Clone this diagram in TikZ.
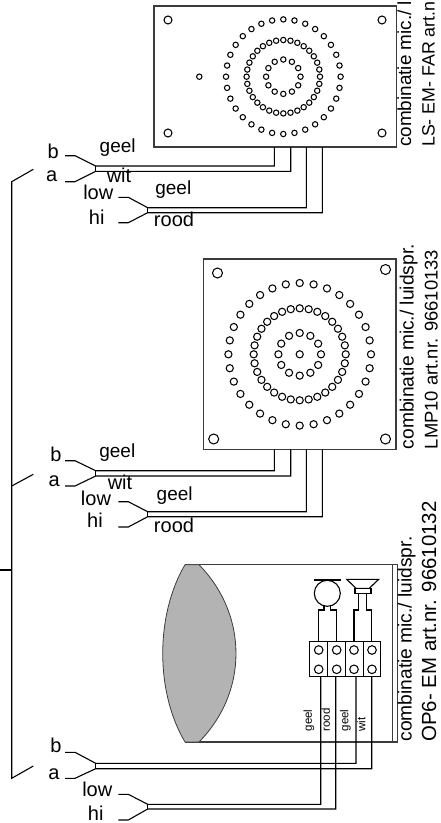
\documentclass[tikz,border=0pt]{standalone}
\usepackage{fontspec}
\setmainfont{Liberation Sans}
\usepackage{tikz}
\definecolor{lensgray}{RGB}{179, 179, 179}
\definecolor{linegray}{RGB}{60, 60, 60}
\tikzset{
    wire/.style={black, line width=1.1pt},
    casing/.style={linegray, line width=1.3pt},
    hole/.style={black, line width=1.05pt},
    lbl/.style={inner sep=0pt, anchor=base, font=\fontsize{20}{20}\selectfont},
    geellbl/.style={inner sep=0pt, anchor=base, font=\fontsize{19}{19}\selectfont},
    typelbl/.style={inner sep=0pt, anchor=mid west, rotate=90},
    corelbl/.style={inner sep=0pt, anchor=mid west, rotate=90, font=\fontsize{11.5}{12}\selectfont},
}

\begin{document}
\begin{tikzpicture}[x=1pt, y=-1pt]
            \useasboundingbox (0,0) rectangle (441,823);
            % LS-EM-FAR plate
            \draw[casing] (154,6) rectangle (396.5,147);
            \foreach \xx/\yy in {168/20, 382/20, 168/133, 382/133}
                \draw[hole] (\xx,\yy) circle (4);
            \coordinate (farc) at (283.3,76.7);
            \foreach \i in {1,...,32} {
                \draw[hole] (farc) ++(\i*11.25:57.3) circle (2.7);
                \draw[hole] (farc) ++(\i*11.25:36.7) circle (2.7);
            }
            \foreach \i in {1,...,12}
                \draw[hole] (farc) ++(\i*30:17.2) circle (2.7);
            \draw[hole] (199.3,76.7) circle (2.7);
            % LMP10 plate
            \draw[casing] (203.5,259) rectangle (396,449.3);
            \foreach \xx/\yy in {217.5/273, 385.5/269.5, 213.7/439, 385.5/439}
                \draw[hole] (\xx,\yy) circle (5);
            \coordinate (lmpc) at (299.7,354.3);
            \foreach \i in {1,...,32} {
                \draw[hole] (lmpc) ++(\i*11.25:71.3) circle (3.6);
                \draw[hole] (lmpc) ++(\i*11.25:46) circle (3.6);
            }
            \foreach \i in {1,...,12}
                \draw[hole] (lmpc) ++(\i*30:21.3) circle (3.6);
            \draw[hole] (lmpc) circle (3.6);
            % OP6-EM casing
            \draw[casing] (185,564.7) -- (397.3,564.7) -- (397.3,742) -- (185,742);
            \draw[casing] (392.7,564.7) -- (392.7,742);
            \draw[linegray, line width=0.8pt, fill=lensgray] (185,564.7) -- (199,564.7)
                 .. controls (248.3,615) and (248.3,692) .. (199,742) -- (185,742)
                 .. controls (155.3,692) and (155.3,615) .. (185,564.7) -- cycle;
            % Microphone
            \draw[black, line width=2.2pt] (314,580) -- (340.7,580);
            \draw[wire] (327.3,593.3) circle (13);
            \draw[wire] (318.7,641.7) |- (324,610) -- (324,605);
            \draw[wire] (336.7,641.7) |- (330.7,610) -- (330.7,605);
            % Speaker
            \draw[wire] (346.7,579.3) -- (378.7,579.3) -- (369.3,588.3) -- (356,588.3) -- cycle;
            \draw[wire] (355,588.3) rectangle (371,593.3);
            \draw[wire] (354,641.7) |- (358.3,610) -- (358.3,593.3);
            \draw[wire] (371.3,641.7) |- (366.7,610) -- (366.7,593.3);
            % Terminal block
            \draw[wire] (309.3,641.7) rectangle (380.7,676.7);
            \foreach \xx in {327.3, 345.3, 363.3}
                \draw[wire] (\xx,641.7) -- (\xx,676.7);
            \foreach \xx in {318.7, 336.7, 354, 372} {
                \draw[hole] (\xx,650) circle (4.3);
                \draw[hole] (\xx,669.3) circle (4.3);
            }
            % Cable pairs: name / stub x / stub y / fork x / fork y / end x / end y
            \foreach \nm/\xa/\ya/\xf/\yf/\xe/\ye in {
                    farb/65/155.7/95.7/166/274.3/147,     fara/65/181.7/95.7/171.3/290.7/147,
                    farl/118.3/197.3/147.7/207.7/306.3/147, farh/118.3/222.7/147.7/212.7/322.3/147,
                    lmpb/65/460.7/95.7/470.7/274.3/449.3, lmpa/65/486/95.7/476/290.7/449.3,
                    lmpl/118.3/501.7/147.7/511.7/306.3/449.3, lmph/118.3/527/147.7/516.7/322.3/449.3,
                    opb/65/752.3/95.7/763.3/356/676.7,    opa/65/778.3/95.7/768.7/371.7/676.7,
                    opl/118.3/794.3/147.7/804.3/320.7/676.7, oph/118.3/820/147.7/809/335.7/676.7} {
                \coordinate (\nm s) at (\xa,\ya);
                \coordinate (\nm f) at (\xf,\yf);
                \coordinate (\nm e) at (\xe,\ye);
                \draw[wire] (\nm s) -- ++(10,0) -- (\nm f) -| (\nm e);
            }
            \foreach \nma/\nmb in {farb/fara, farl/farh, lmpb/lmpa, lmpl/lmph, opb/opa, opl/oph}
                \draw[wire] (\nma f) -- (\nmb f);
            % Supply bus
            \coordinate (busa) at (33.3,169.3);
            \coordinate (busb) at (11.7,181.7);
            \coordinate (busc) at (11.7,778.3);
            \coordinate (busd) at (33.3,766);
            \coordinate (buse) at (33.3,474.3);
            \coordinate (busf) at (11.7,486);
            \coordinate (busg) at (0,570);
            \coordinate (bush) at (11.7,570);
            \draw[wire] (busa) -- (busb) -- (busc) -- (busd);
            \draw[wire] (buse) -- (busf);
            \draw[wire] (busg) -- (bush);
            % Labels at the cables
            \node[lbl] (farlb)  at (53.3,158.3) {b};
            \node[lbl] (farla)  at (51.7,181)   {a};
            \node[geellbl] (farge)  at (117.7,152.7) {geel};
            \node[lbl] (farwi)  at (119,182.7)  {wit};
            \node[lbl] (farlo)  at (98.3,199)   {low};
            \node[lbl] (farhi)  at (96.7,224)   {hi};
            \node[geellbl] (fargl)  at (173.3,194.3) {geel};
            \node[lbl] (farro)  at (174,226)    {rood};
            \node[lbl] (lmplb)  at (56,461)     {b};
            \node[lbl] (lmpla)  at (54.3,486)   {a};
            \node[geellbl] (lmpge)  at (117.3,457.3) {geel};
            \node[lbl] (lmpwi)  at (120,489)    {wit};
            \node[lbl] (lmplo)  at (96,505)     {low};
            \node[lbl] (lmphi)  at (95,527.3)   {hi};
            \node[geellbl] (lmpgl)  at (174.7,500)  {geel};
            \node[lbl] (lmpro)  at (174,532.3)  {rood};
            \node[lbl] (oplb)   at (56,752.7)   {b};
            \node[lbl] (opla)   at (54,779)     {a};
            \node[lbl] (oplo)   at (97.3,796.7) {low};
            \node[lbl] (ophi)   at (95.7,820)   {hi};
            % Core colours in the casing
            \node[corelbl] (opcge) at (309.3,731.5) {geel};
            \node[corelbl] (opcro) at (327.3,731.5) {rood};
            \node[corelbl] (opcgl) at (345.7,731.5) {geel};
            \node[corelbl] (opcwi) at (362.7,731.5) {wit};
            % Type labels
            \node[typelbl, font=\fontsize{18.9}{19}\selectfont] (fartop) at (408.5,147)   {combinatie mic./ l};
            \node[typelbl, font=\fontsize{17.8}{19}\selectfont] (farnr)  at (432,147)     {LS- EM- FAR art.n};
            \node[typelbl, font=\fontsize{19.2}{19}\selectfont] (lmptop) at (411,449.3)   {combinatie mic./ luidspr.};
            \node[typelbl, font=\fontsize{18.4}{19}\selectfont] (lmpnr)  at (435,449.3)   {LMP10 art.nr. 96610133};
            \node[typelbl, font=\fontsize{19.2}{19}\selectfont] (optop)  at (409,741.7)   {combinatie mic./ luidspr.};
            \node[typelbl, font=\fontsize{20.4}{19}\selectfont] (opnr)   at (433.5,741.7) {OP6- EM art.nr. 96610132};
        \end{tikzpicture}
\end{document}
